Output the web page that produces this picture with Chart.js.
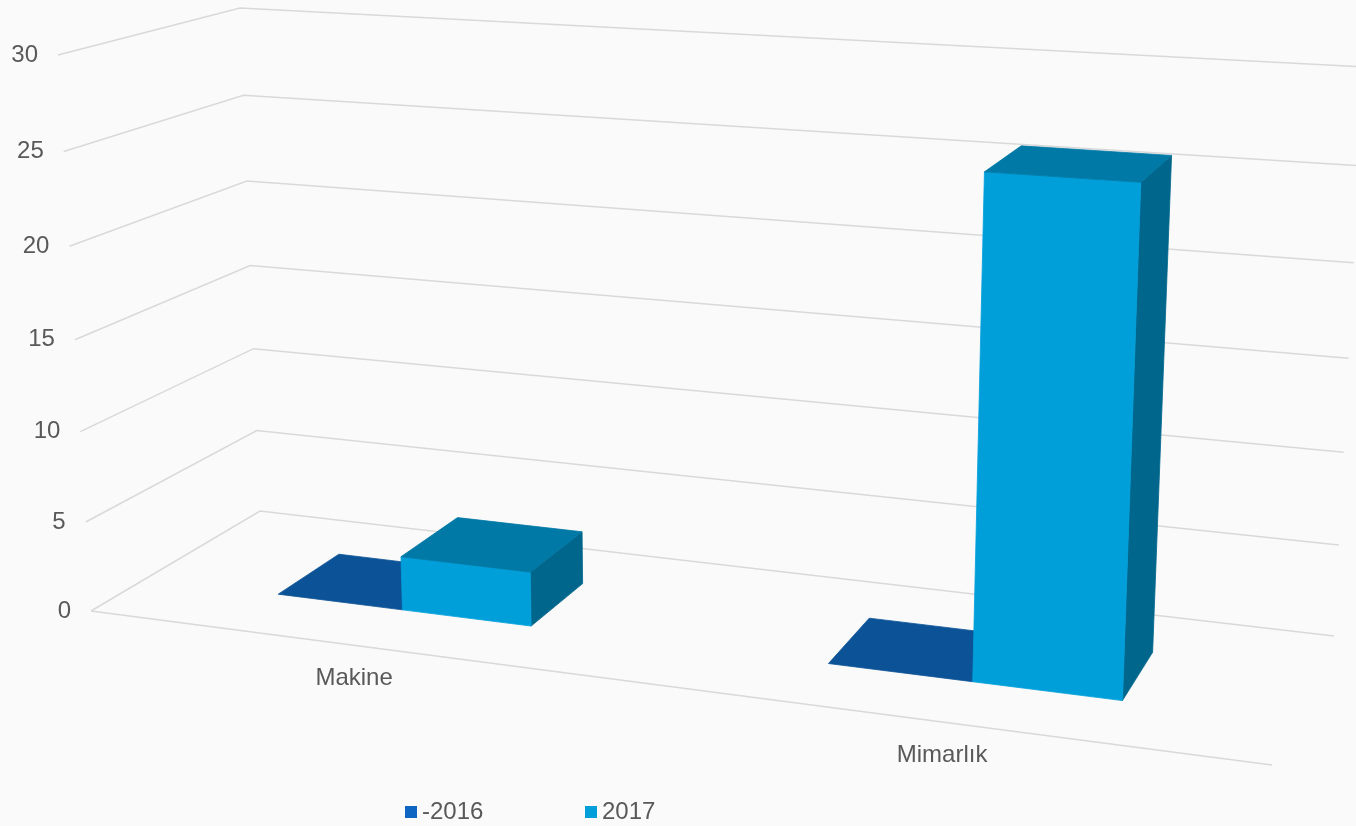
<!DOCTYPE html>
<html>
<head>
<meta charset="utf-8">
<script src="https://cdn.jsdelivr.net/npm/chart.js@4.4.1/dist/chart.umd.min.js"></script>
<style>
  html, body { margin: 0; padding: 0; background: #fafafa; overflow: hidden; }
</style>
</head>
<body>
<canvas id="chart" width="1356" height="826"></canvas>
<script>
// data
const categories = ['Makine', 'Mimarlık'];
const seriesNames = ['-2016', '2017'];
const values2016 = [0, 0];
const values2017 = [3, 26];
const yTicks = [0, 5, 10, 15, 20, 25, 30];

// colours: front face / top face / right side
const frontColors = ['#0e66c2', '#009fda'];
const topColors = ['#0b5296', '#0079a6'];
const sideColors = ['#09437c', '#00668c'];
const textColor = '#595959';
const gridColor = '#d9d9d9';
const font = '24px "Liberation Sans", Arial, sans-serif';

// screen corners of the 3D plot box (f/b = front/back, b/t = bottom/top, l/r = left/right)
const box = {
  fbl: [91, 611], fbr: [1272, 765], ftl: [58, 55], ftr: [1302, 130],
  bbl: [260, 511], bbr: [1334, 636], btl: [240, 8], btr: [1364, 67]
};
const kx = 0.86, ky = 0.953;      // perspective squeeze along x and y
const barFront = 0.333, barBack = 0.72;  // depth slab the columns occupy

function warp(v, k) { return k * v / (1 + (k - 1) * v); }
function lerp(a, b, f) { return [a[0] + (b[0] - a[0]) * f, a[1] + (b[1] - a[1]) * f]; }
function project(u, t, d) {
  const su = warp(u, kx), st = warp(t, ky);
  const front = lerp(lerp(box.fbl, box.fbr, su), lerp(box.ftl, box.ftr, su), st);
  const back = lerp(lerp(box.bbl, box.bbr, su), lerp(box.btl, box.btr, su), st);
  return lerp(front, back, d);
}
function poly(ctx, pts, color) {
  ctx.beginPath();
  ctx.moveTo(pts[0][0], pts[0][1]);
  for (let i = 1; i < pts.length; i++) ctx.lineTo(pts[i][0], pts[i][1]);
  ctx.closePath();
  ctx.fillStyle = color;
  ctx.fill();
  ctx.strokeStyle = color;
  ctx.lineWidth = 0.8;
  ctx.stroke();
}

const threeD = {
  id: 'threeD',
  beforeDraw(chart) {
    const ctx = chart.ctx;
    ctx.save();
    ctx.fillStyle = '#fafafa';
    ctx.fillRect(0, 0, chart.width, chart.height);
    ctx.restore();
  },
  beforeDatasetsDraw(chart) {
    const ctx = chart.ctx, area = chart.chartArea;
    const ys = chart.scales.y, xs = chart.scales.x;
    const tOf = v => (area.bottom - ys.getPixelForValue(v)) / area.height;
    ctx.save();
    ctx.strokeStyle = gridColor;
    ctx.lineWidth = 1.5;
    // walls
    yTicks.forEach(v => {
      const t = tOf(v);
      const a = project(0, t, 0), b = project(0, t, 1), c = project(1, t, 1);
      ctx.beginPath();
      ctx.moveTo(a[0], a[1]);
      ctx.lineTo(b[0], b[1]);
      ctx.lineTo(c[0], c[1]);
      ctx.stroke();
    });
    // floor front edge (category axis)
    const f0 = project(0, 0, 0), f1 = project(1, 0, 0);
    ctx.beginPath();
    ctx.moveTo(f0[0], f0[1]);
    ctx.lineTo(f1[0], f1[1]);
    ctx.stroke();

    ctx.fillStyle = textColor;
    ctx.font = font;
    ctx.textAlign = 'right';
    ctx.textBaseline = 'middle';
    yTicks.forEach(v => {
      const p = project(0, tOf(v), 0);
      ctx.fillText(String(v), p[0] - 20, p[1]);
    });
    ctx.textAlign = 'center';
    ctx.textBaseline = 'middle';
    categories.forEach((c, i) => {
      const u = (xs.getPixelForValue(i) - area.left) / area.width;
      const p = project(u, 0, 0);
      ctx.fillText(c, p[0], p[1] + 33);
    });
    ctx.restore();
  },
  beforeDatasetDraw() { return false; },
  afterDatasetsDraw(chart) {
    const ctx = chart.ctx, area = chart.chartArea;
    const uOf = px => (px - area.left) / area.width;
    const tOf = py => (area.bottom - py) / area.height;
    ctx.save();
    categories.forEach((c, i) => {
      chart.data.datasets.forEach((ds, j) => {
        const el = chart.getDatasetMeta(j).data[i];
        const u0 = uOf(el.x - el.width / 2), u1 = uOf(el.x + el.width / 2);
        const t0 = tOf(el.base), t1 = tOf(el.y);
        const d0 = barFront, d1 = barBack;
        if (t1 - t0 > 0.001) {
          poly(ctx, [project(u1, t0, d0), project(u1, t0, d1), project(u1, t1, d1), project(u1, t1, d0)], sideColors[j]);
          poly(ctx, [project(u0, t0, d0), project(u1, t0, d0), project(u1, t1, d0), project(u0, t1, d0)], frontColors[j]);
        }
        poly(ctx, [project(u0, t1, d0), project(u1, t1, d0), project(u1, t1, d1), project(u0, t1, d1)], topColors[j]);
      });
    });

    // legend
    ctx.font = font;
    ctx.textAlign = 'left';
    ctx.textBaseline = 'middle';
    chart.data.datasets.forEach((ds, j) => {
      const x = 405 + j * 180, y = 812;
      ctx.fillStyle = frontColors[j];
      ctx.fillRect(x, y - 6, 12, 12);
      ctx.fillStyle = textColor;
      ctx.fillText(ds.label, x + 17, y);
    });
    ctx.restore();
  }
};

new Chart(document.getElementById('chart'), {
  type: 'bar',
  data: {
    labels: categories,
    datasets: [
      { label: seriesNames[0], data: values2016, backgroundColor: frontColors[0] },
      { label: seriesNames[1], data: values2017, backgroundColor: frontColors[1] }
    ]
  },
  options: {
    responsive: false,
    animation: false,
    devicePixelRatio: 1,
    layout: { padding: { left: 100, right: 100, top: 60, bottom: 200 } },
    categoryPercentage: 0.478,
    barPercentage: 1,
    plugins: {
      legend: { display: false },
      tooltip: { enabled: false }
    },
    scales: {
      x: { display: false },
      y: { display: false, min: 0, max: 30, ticks: { stepSize: 5 } }
    }
  },
  plugins: [threeD]
});
</script>
</body>
</html>
